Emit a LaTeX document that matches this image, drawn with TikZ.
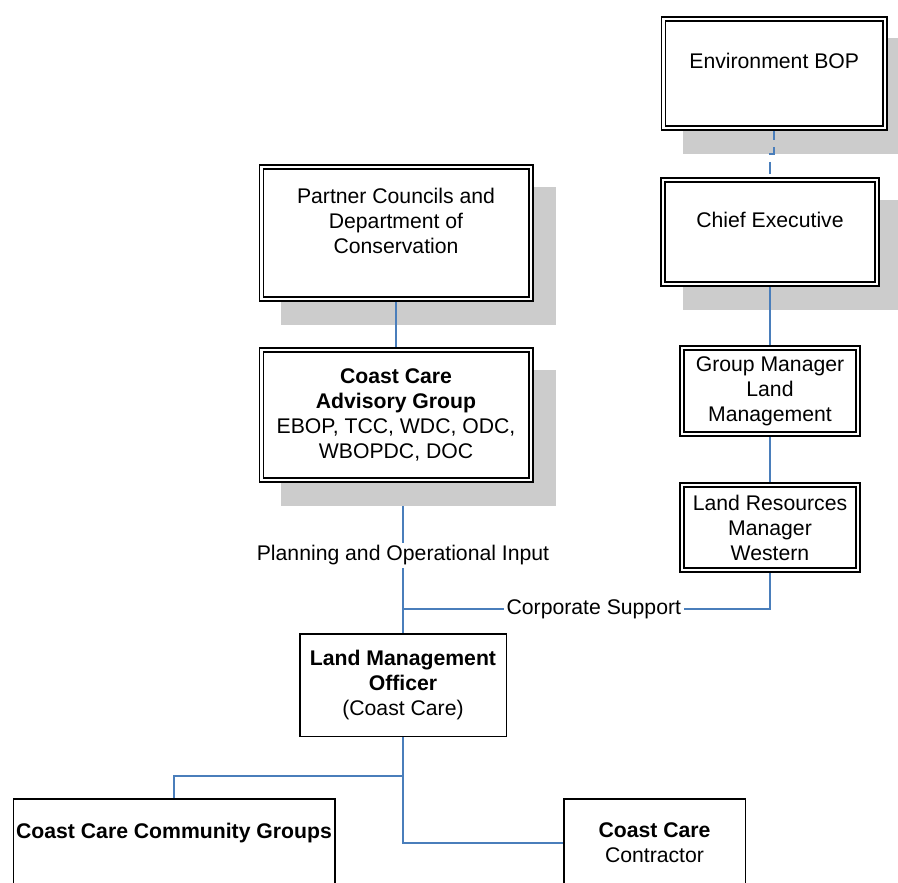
\documentclass[tikz,border=0pt]{standalone}
\usepackage{fontspec}
\setmainfont{Liberation Sans}
\definecolor{linkblue}{RGB}{74,126,187}
\definecolor{shadegray}{RGB}{204,204,204}
\pgfdeclarelayer{under}
\pgfdeclarelayer{shade}
\pgfdeclarelayer{wires}
\pgfsetlayers{under,shade,wires,main}

\begin{document}
\begin{tikzpicture}[x=1pt, y=-1pt, font=\fontsize{21.2}{25}\selectfont,
  dbox/.style={draw, double, line width=1.8pt, double distance=2.2pt, fill=white,
    align=center, inner sep=2pt, outer sep=0pt},
  sbox/.style={draw, line width=1.5pt, fill=white, align=center, inner sep=2pt,
    outer sep=0pt},
  link/.style={draw=linkblue, line width=1.8pt},
  linklabel/.style={fill=white, inner sep=3pt}]
  \useasboundingbox (0,0) rectangle (898,883);
  \node[dbox, minimum width=221.7pt, minimum height=109.2pt] (envbop) at (774.25,73.5) {Environment BOP\\ \mbox{}};
  \node[dbox, minimum width=213.7pt, minimum height=104.2pt] (chief) at (770,232) {Chief Executive\\ \mbox{}};
  \node[dbox, minimum width=269.2pt, minimum height=132.2pt] (partner) at (396,233) {Partner Councils and\\ Department of\\ Conservation\\ \mbox{}};
  \node[dbox, minimum width=269.2pt, minimum height=130.2pt] (advisory) at (396,415) {\textbf{Coast Care}\\ \textbf{Advisory Group}\\ EBOP, TCC, WDC, ODC,\\ WBOPDC, DOC};
  \node[dbox, minimum width=176.2pt, minimum height=86.2pt] (groupmgr) at (770,391) {Group Manager\\ Land\\ Management};
  \node[dbox, minimum width=176.2pt, minimum height=85.2pt] (landres) at (770,527.5) {Land Resources\\ Manager\\ Western};
  \node[sbox, minimum width=206.5pt, minimum height=102.5pt] (officer) at (403,685) {\textbf{Land Management}\\ \textbf{Officer}\\ (Coast Care)};
  \node[sbox, minimum width=321.5pt, minimum height=88.5pt] (groups) at (174,843) {\textbf{Coast Care Community Groups}\\ \mbox{}};
  \node[sbox, minimum width=181.5pt, minimum height=88.5pt] (contractor) at (654.5,843) {\textbf{Coast Care}\\ Contractor};
  \coordinate (join) at (403,609);
  % shadows
  \begin{pgfonlayer}{shade}
    \foreach \n in {envbop,chief,partner,advisory}
      \fill[shadegray] ([shift={(19.6,19.6)}]\n.north west) rectangle ([shift={(25.4,25.4)}]\n.south east);
  \end{pgfonlayer}
  % connectors
  \begin{pgfonlayer}{wires}
    \draw[link, dash pattern=on 12pt off 7pt] (envbop.south) -- ++(0,26) -| (chief.north);
    \draw[link] (chief) -- (groupmgr);
    \draw[link] (groupmgr) -- (landres);
    \draw[link] (partner) -- (advisory);
    \draw[link] (landres.south) |- node[linklabel, pos=0.74] {Corporate Support} (join);
    \draw[link] (officer.south) -- ++(0,39.75) -| (groups.north);
    \draw[link] (officer.south) |- (contractor.west);
  \end{pgfonlayer}
  \begin{pgfonlayer}{under}
    \draw[link] (officer.north |- advisory.south) -- node[linklabel, pos=0.49] {Planning and Operational Input} (officer.north);
  \end{pgfonlayer}
\end{tikzpicture}
\end{document}
